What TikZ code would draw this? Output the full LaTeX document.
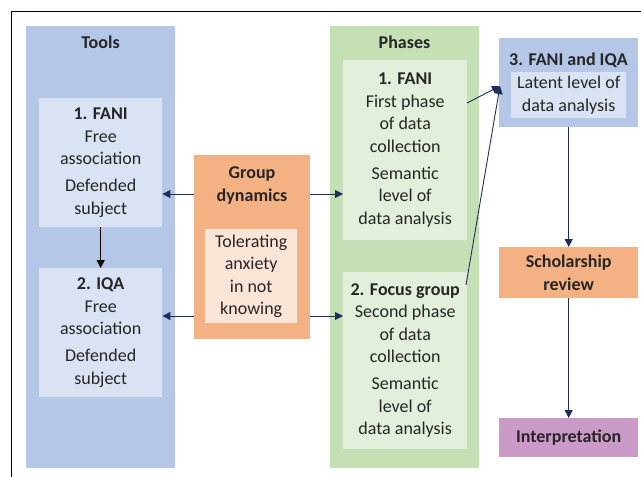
\documentclass[tikz,border=0pt]{standalone}
\usepackage{fontspec}
\setmainfont{Carlito}
\usetikzlibrary{arrows.meta}
\definecolor{toolbg}{HTML}{B4C7E7}
\definecolor{toolin}{HTML}{DAE3F3}
\definecolor{phasebg}{HTML}{C5E0B4}
\definecolor{phasein}{HTML}{E2EFDA}
\definecolor{orbg}{HTML}{F4B183}
\definecolor{orin}{HTML}{FBE5D6}
\definecolor{purp}{HTML}{CC9AC8}
\definecolor{navy}{HTML}{1F2D5E}
\definecolor{txt}{HTML}{262626}
\begin{document}
\begin{tikzpicture}[x=1pt,y=-1pt,
  font=\fontsize{18}{22.5}\selectfont, text=txt,
  box/.style={rectangle, inner sep=0pt, anchor=north west, align=center},
  bftext/.style={font=\fontsize{18}{22.5}\selectfont\bfseries, align=center, inner sep=0pt},
  arr/.style={navy, line width=0.9pt, -{Triangle[length=8pt,width=8pt]}},
  barr/.style={black, line width=0.9pt, -{Triangle[length=8pt,width=8pt]}}
]
\useasboundingbox (0,0) rectangle (641,477);
\draw[line width=0.8pt] (11,477) -- (11,11) -- (641,11);

% Tools column
\node[box, fill=toolbg, minimum width=149pt, minimum height=442pt] (tools) at (26,26) {};
\node[bftext] (toolsT) at (100.5,42) {Tools};
\node[box, fill=toolin, minimum width=123pt, minimum height=129pt] (tfani) at (39,98)
  {\textbf{1. FANI}\\Free\\association\\[4.5pt]Defended\\subject};
\node[box, fill=toolin, minimum width=123pt, minimum height=129pt] (tiqa) at (39,268)
  {\textbf{2. IQA}\\Free\\association\\[4.5pt]Defended\\subject};

% Group dynamics
\node[box, fill=orbg, minimum width=116pt, minimum height=184pt] (gd) at (194,155) {};
\node[bftext] (gdT) at (252,185.5) {Group\\dynamics};
\node[box, fill=orin, minimum width=92pt, minimum height=94pt] (gdin) at (205,229)
  {Tolerating\\anxiety\\in not\\knowing};

% Phases column
\node[box, fill=phasebg, minimum width=149pt, minimum height=442pt] (phases) at (330,26) {};
\node[bftext] (phasesT) at (404.5,42) {Phases};
\node[box, fill=phasein, minimum width=124pt, minimum height=180pt] (pfani) at (343,60)
  {\textbf{1. FANI}\\First phase\\of data\\collection\\[4.5pt]Semantic\\level of\\data analysis};
\node[box, fill=phasein, minimum width=124pt, minimum height=177pt] (pfocus) at (343,272)
  {\textbf{2. Focus group}\\Second phase\\of data\\collection\\[4.5pt]Semantic\\level of\\data analysis};

% Right column
\node[box, fill=toolbg, minimum width=139pt, minimum height=89pt] (b3) at (499,38) {};
\node[bftext] (b3T) at (568.5,60) {3. FANI and IQA};
\node[box, fill=toolin, minimum width=115pt, minimum height=46pt] (b3in) at (511,72)
  {Latent level of\\data analysis};
\node[box, fill=orbg, minimum width=139pt, minimum height=51pt,
  font=\fontsize{18}{22.5}\selectfont\bfseries] (schol) at (499,247) {Scholarship\\review};
\node[box, fill=purp, minimum width=139pt, minimum height=39pt,
  font=\fontsize{18}{22.5}\selectfont\bfseries] (interp) at (499,418) {Interpretation};

% helper coordinates
\coordinate (yA) at (0,194);
\coordinate (yB) at (0,316);
\coordinate (s1) at (467,103);
\coordinate (s2) at (466,285);
\coordinate (tip) at (500,86);

% Arrows
\draw[barr] (tfani.south) -- (tiqa.north);
\draw[arr] (gd.west |- yA) -- (tfani.east |- yA);
\draw[arr] (gd.west |- yB) -- (tiqa.east |- yB);
\draw[arr] (gd.east |- yA) -- (pfani.west |- yA);
\draw[arr] (gd.east |- yB) -- (pfocus.west |- yB);
\draw[arr] (s1) -- (tip);
\draw[arr] (s2) -- (tip);
\draw[arr] (b3.south) -- (schol.north);
\draw[arr] (schol.south) -- (interp.north);
\end{tikzpicture}
\end{document}
